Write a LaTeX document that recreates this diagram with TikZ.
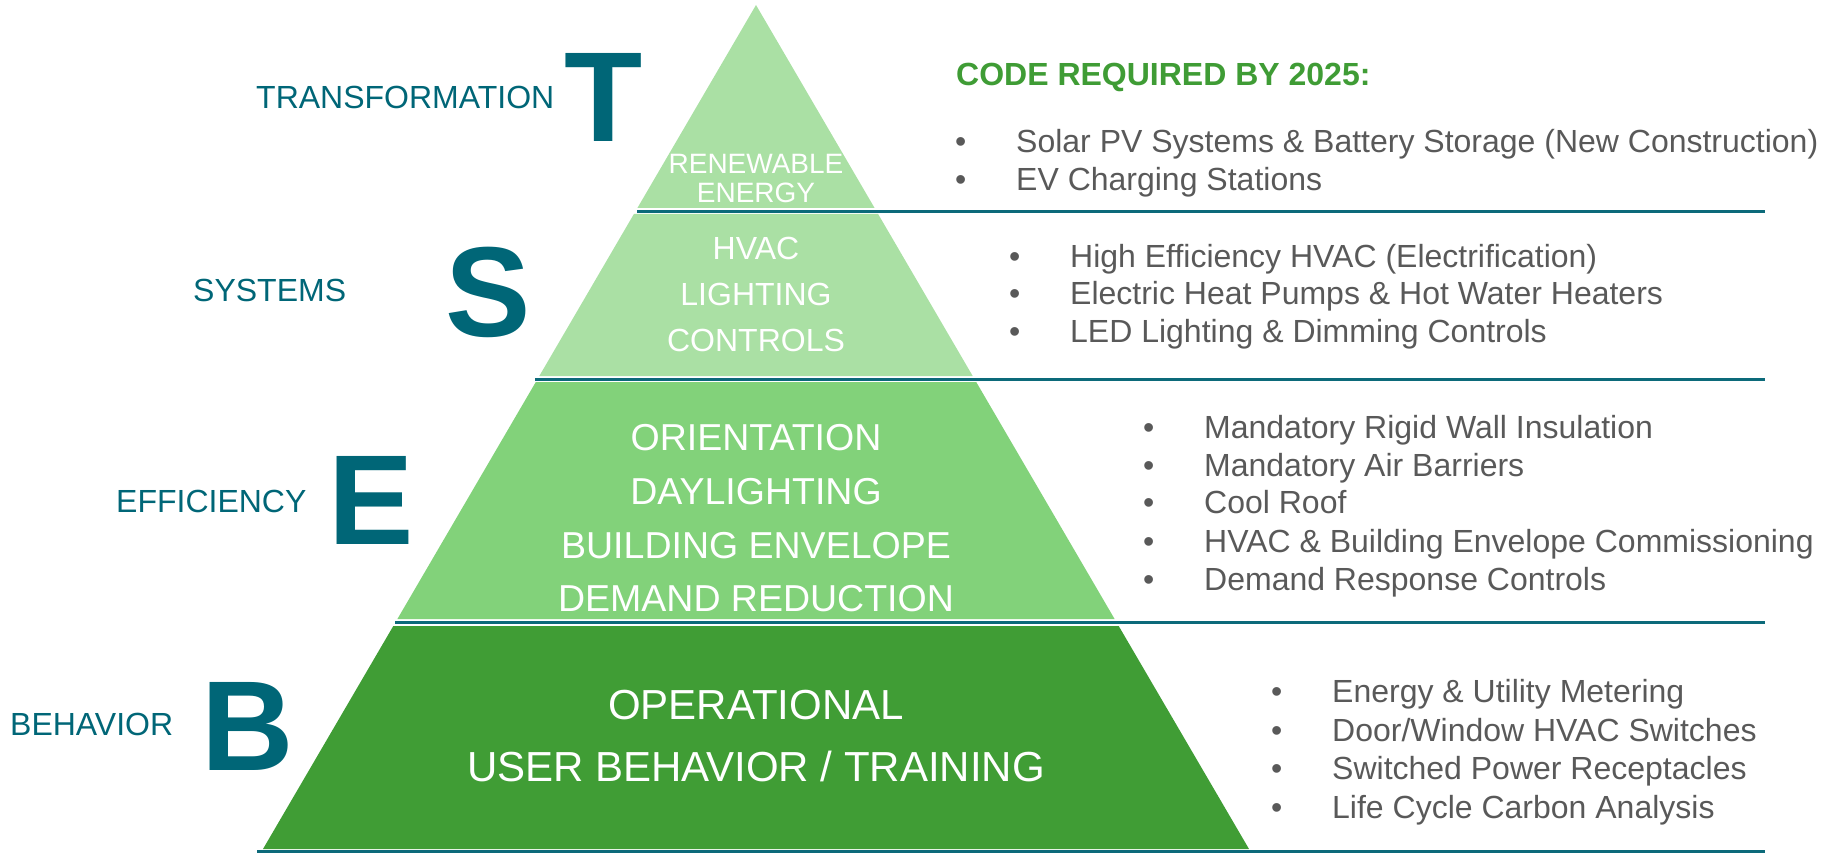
\documentclass[tikz,border=0pt]{standalone}
\usepackage{fontspec}
\setmainfont{Liberation Sans}
\definecolor{teal}{HTML}{006677}
\definecolor{lineteal}{HTML}{0C6A7A}
\definecolor{tierA}{HTML}{AAE0A4}
\definecolor{tierB}{HTML}{82D27A}
\definecolor{tierC}{HTML}{409D35}
\definecolor{txtgray}{HTML}{595959}
\definecolor{headgreen}{HTML}{3F9C35}
\tikzset{
  lbl/.style={anchor=base west, inner sep=0pt, text=teal, font=\fontsize{32}{38}\selectfont},
  bigl/.style={anchor=base west, inner sep=0pt, text=teal, font=\fontsize{128}{130}\selectfont\bfseries},
  ptxt/.style={anchor=base, inner sep=0pt, text=white},
  item/.style={anchor=base west, inner sep=0pt, text=txtgray, font=\fontsize{32}{38}\selectfont},
  sepline/.style={draw=lineteal, line width=3pt},
}
\newcommand{\bul}[1]{\makebox[61pt][l]{•}#1}
\begin{document}
\begin{tikzpicture}[x=1pt,y=-1pt]
\useasboundingbox (0,0) rectangle (1823,853);
% tiers
\fill[tierA] (756,5) -- (874.6,208) -- (637.4,208) -- cycle;
\fill[tierA] (633.9,214) -- (878.1,214) -- (972.7,376) -- (539.3,376) -- cycle;
\fill[tierB] (535.8,382) -- (976.2,382) -- (1114.6,619) -- (397.4,619) -- cycle;
\fill[tierC] (393.3,626) -- (1118.7,626) -- (1249,849) -- (263,849) -- cycle;
% separator lines
\coordinate (l1a) at (637,211.5); \coordinate (l1b) at (1765,211.5);
\coordinate (l2a) at (535,379); \coordinate (l2b) at (1765,379);
\coordinate (l3a) at (395,622.5); \coordinate (l3b) at (1765,622.5);
\coordinate (l4a) at (257,851); \coordinate (l4b) at (1765,851);
\draw[sepline] (l1a) -- (l1b);
\draw[sepline] (l2a) -- (l2b);
\draw[sepline] (l3a) -- (l3b);
\draw[sepline] (l4a) -- (l4b);
% left labels
\node[lbl] (tr) at (256,109) {TRANSFORMATION};
\node[bigl] (T) at (564,142) {T};
\node[lbl] (sy) at (193,301) {SYSTEMS};
\node[bigl] (S) at (445,336) {S};
\node[lbl] (ef) at (116,512) {EFFICIENCY};
\node[bigl] (E) at (328,544) {E};
\node[lbl] (be) at (10,735) {BEHAVIOR};
\node[bigl] (B) at (201,770) {B};
% pyramid texts
\node[ptxt, font=\fontsize{28}{30}\selectfont] (p1) at (756,174) {RENEWABLE};
\node[ptxt, font=\fontsize{28}{30}\selectfont] (p2) at (756,203) {ENERGY};
\node[ptxt, font=\fontsize{32}{34}\selectfont] (p3) at (756,259) {HVAC};
\node[ptxt, font=\fontsize{32}{34}\selectfont] (p4) at (756,305) {LIGHTING};
\node[ptxt, font=\fontsize{32}{34}\selectfont] (p5) at (756,351) {CONTROLS};
\node[ptxt, font=\fontsize{37.5}{38}\selectfont] (p6) at (756,450) {ORIENTATION};
\node[ptxt, font=\fontsize{37.5}{38}\selectfont] (p7) at (756,504) {DAYLIGHTING};
\node[ptxt, font=\fontsize{37.5}{38}\selectfont] (p8) at (756,558) {BUILDING ENVELOPE};
\node[ptxt, font=\fontsize{37.5}{38}\selectfont] (p9) at (756,611) {DEMAND REDUCTION};
\node[ptxt, font=\fontsize{42}{44}\selectfont] (p10) at (756,719) {OPERATIONAL};
\node[ptxt, font=\fontsize{42}{44}\selectfont] (p11) at (756,781) {USER BEHAVIOR / TRAINING};
% right side
\node[anchor=base west, inner sep=0pt, text=headgreen, font=\fontsize{32}{38}\selectfont\bfseries] (hd) at (956,86) {CODE REQUIRED BY 2025:};
\node[item] (a1) at (955,153) {\bul{Solar PV Systems \& Battery Storage (New Construction)}};
\node[item] (a2) at (955,191) {\bul{EV Charging Stations}};
\node[item] (b1) at (1009,267) {\bul{High Efficiency HVAC (Electrification)}};
\node[item] (b2) at (1009,304) {\bul{Electric Heat Pumps \& Hot Water Heaters}};
\node[item] (b3) at (1009,342) {\bul{LED Lighting \& Dimming Controls}};
\node[item] (c1) at (1143,438) {\bul{Mandatory Rigid Wall Insulation}};
\node[item] (c2) at (1143,476) {\bul{Mandatory Air Barriers}};
\node[item] (c3) at (1143,513) {\bul{Cool Roof}};
\node[item] (c4) at (1143,552) {\bul{HVAC \& Building Envelope Commissioning}};
\node[item] (c5) at (1143,590) {\bul{Demand Response Controls}};
\node[item] (d1) at (1271,702) {\bul{Energy \& Utility Metering}};
\node[item] (d2) at (1271,741) {\bul{Door/Window HVAC Switches}};
\node[item] (d3) at (1271,779) {\bul{Switched Power Receptacles}};
\node[item] (d4) at (1271,818) {\bul{Life Cycle Carbon Analysis}};
\end{tikzpicture}
\end{document}
